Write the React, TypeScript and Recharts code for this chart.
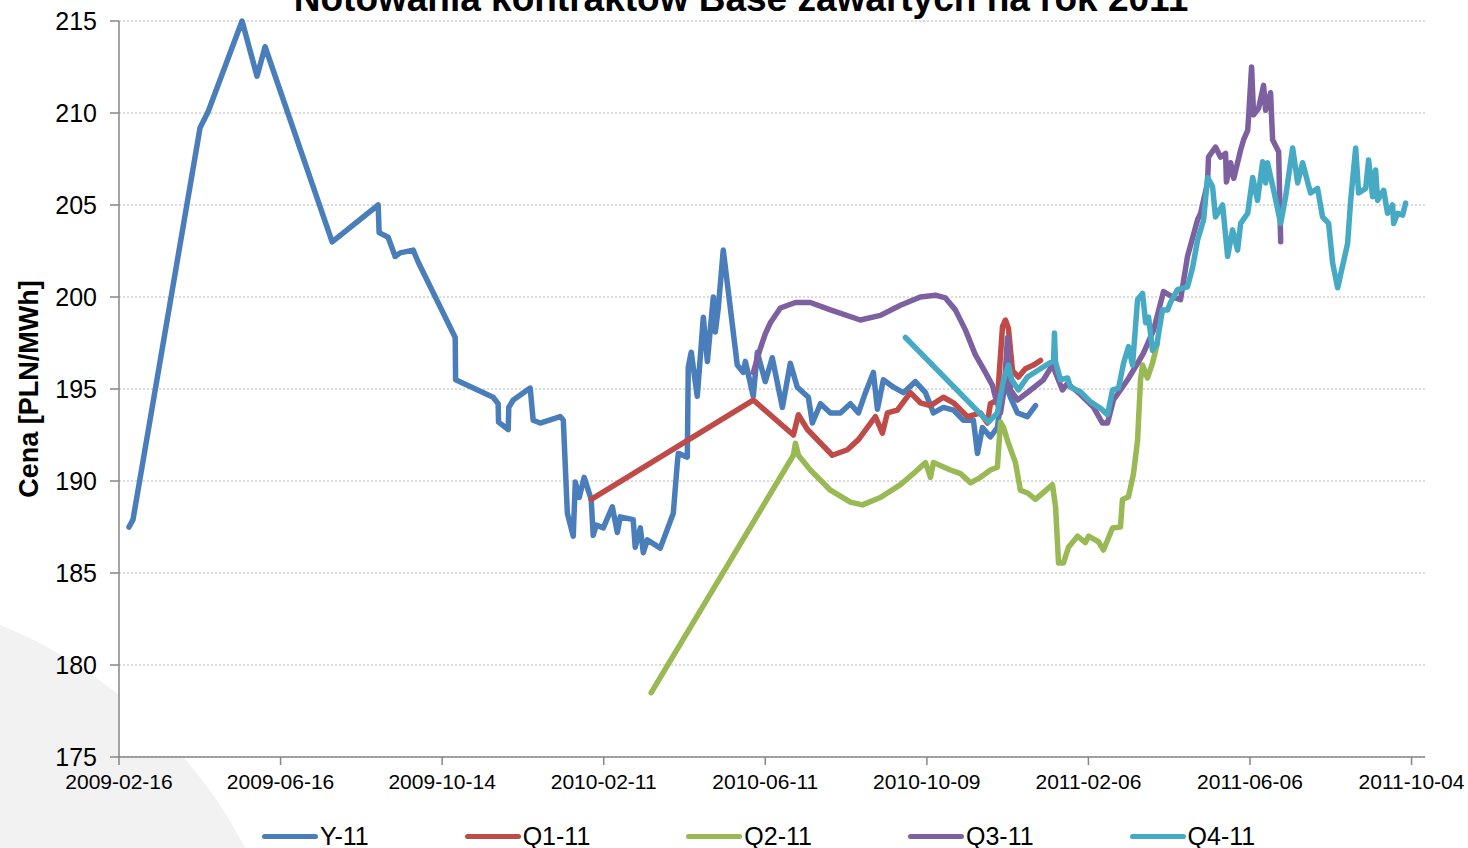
import { LineChart, Line, XAxis, YAxis, CartesianGrid } from 'recharts'

// days counted from 2009-02-16, values in PLN/MWh
const Y11: [number, number][] = [
    [7.4, 187.5], [10.4, 187.9], [60.2, 209.2], [66.1, 210.05], [91.4, 215], [102.5, 212.0], [108.5, 213.6],
    [158.3, 203.0], [192.5, 205.0], [193.2, 203.5], [199.9, 203.25], [205.1, 202.2], [208.8, 202.4],
    [218.5, 202.55], [222.2, 201.9], [249.7, 197.8], [250, 195.5], [277.9, 194.55], [281.6, 194.2],
    [281.9, 193.2], [289.1, 192.8], [289.5, 194.0], [292.8, 194.4], [305.4, 195.05], [307.6, 193.3],
    [312.8, 193.15], [327.7, 193.5], [330.0, 193.3], [333.0, 188.25], [337.4, 187.0], [338.9, 189.95],
    [341.8, 189.1], [345.5, 190.2], [350.7, 189.0], [352.2, 187.05], [354.5, 187.6], [359.7, 187.45],
    [366.4, 188.6], [370.1, 187.2], [372.3, 188.05], [381.9, 187.9], [383.4, 186.4], [387.2, 187.45],
    [389.4, 186.1], [392.4, 186.8], [402.0, 186.35], [411.7, 188.25], [414.7, 191.0], [415.4, 191.5],
    [422.1, 191.3], [422.8, 196.2], [425, 197.0], [429.5, 194.6], [434, 198.9], [437, 196.5], [441.4, 200.0],
    [442.9, 198.1], [445.1, 199.4], [448.8, 202.55], [459.2, 196.3], [463.7, 195.9], [465.2, 196.5],
    [471.1, 194.6], [474.1, 197.0], [480, 195.4], [485.2, 196.7], [492.7, 194.0], [498.6, 196.4],
    [503.8, 195.1], [512, 194.55], [515, 193.15], [521, 194.2], [528.4, 193.7], [535.8, 193.7],
    [543.2, 194.2], [549.2, 193.7], [554.4, 194.8], [560.3, 195.9], [563.3, 193.9], [567.7, 195.5],
    [575.2, 195.1], [582.6, 194.8], [591.5, 195.4], [599, 194.8], [604.9, 193.7], [612.3, 194.0],
    [619.8, 193.85], [627.2, 193.3], [634.6, 193.3], [637.6, 191.5], [641.3, 192.9], [647.2, 192.4],
    [652.4, 192.9], [657, 195.5], [662.1, 194.55], [667.3, 193.7], [674.7, 193.5], [680.7, 194.1],
]

const Q1_11: [number, number][] = [
    [350.7, 189.0], [471.1, 194.4], [500.9, 192.5], [504.6, 193.6], [511.3, 192.8], [529.8, 191.4],
    [541, 191.7], [549.2, 192.25], [561.8, 193.5], [567, 192.6], [570.7, 193.7], [578.1, 193.85],
    [587.8, 194.8], [595.2, 194.25], [602.7, 194.1], [612.3, 194.55], [619.8, 194.25], [630.2, 193.5],
    [639.8, 193.7], [645, 193.15], [647.2, 194.2], [652.4, 194.4], [656.2, 198.4], [658.4, 198.75],
    [660.6, 198.3], [663.6, 196.0], [668, 195.65], [673.2, 196.1], [679.2, 196.3], [684.4, 196.55],
]

const Q2_11: [number, number][] = [
    [395.3, 178.5], [500.9, 191.4], [502.4, 192.05], [504.6, 191.4], [513.5, 190.6], [528.4, 189.5],
    [543.2, 188.85], [552.1, 188.7], [565.5, 189.1], [580.4, 189.8], [591.5, 190.5], [599, 191.0],
    [602.7, 190.2], [604.9, 191.0], [617.5, 190.6], [625, 190.4], [632.4, 189.9], [639.8, 190.2],
    [647.2, 190.6], [652.4, 190.75], [654.7, 193.2], [657, 192.9], [659.9, 192.2], [665.8, 191.0],
    [669.5, 189.5], [674.7, 189.35], [680.7, 189.0], [693.3, 189.8], [695.6, 188.6], [697.8, 185.55],
    [701.5, 185.55], [705.2, 186.4], [711.9, 187.0], [717.8, 186.65], [720.1, 187.0], [727.5, 186.7],
    [731.2, 186.25], [737.9, 187.45], [743.8, 187.5], [745.3, 189.0], [749.8, 189.15], [753.5, 190.4],
    [756.5, 192.2], [758.7, 195.5], [760.2, 196.3], [763.9, 195.6], [767.6, 196.4], [771.3, 197.5],
]

const Q3_11: [number, number][] = [
    [471.1, 195.9], [476.3, 197.2], [480, 198.0], [483.8, 198.6], [491.2, 199.4], [502.4, 199.7],
    [513.5, 199.7], [528.4, 199.3], [550.6, 198.75], [565.5, 199.0], [580.4, 199.55], [595.2, 200.0],
    [606.4, 200.1], [613.8, 199.95], [621.2, 199.3], [628.7, 198.2], [636.1, 196.85], [643.5, 195.9],
    [648.7, 195.2], [651, 194.55], [654.7, 193.7], [657.5, 195], [659.9, 197.8], [662.1, 194.95],
    [667.3, 194.4], [675.5, 194.85], [686.6, 195.5], [693.3, 196.3], [700.7, 194.95], [704.5, 195.3],
    [714.1, 194.7], [723.8, 194.0], [730.5, 193.15], [734.2, 193.15], [738.6, 194.4], [749.1, 195.5],
    [756.5, 196.4], [760.9, 196.95], [768.4, 198.2], [775.8, 200.3], [782.5, 200.0], [788.4, 199.85],
    [793.6, 202.2], [801.1, 204.2], [803.3, 204.55], [808.5, 206.2], [809.2, 207.6], [814.4, 208.15],
    [818.2, 207.6], [821.9, 207.8], [822.5, 206.25], [825.6, 207.3], [828, 206.45], [833.1, 208.0],
    [835.3, 208.55], [838.3, 209.05], [839, 209.8], [841.2, 212.5], [842.7, 209.9], [846.4, 210.25],
    [850.1, 211.5], [851.6, 210.15], [855.3, 211.1], [856.8, 208.55], [861.3, 207.9], [862.8, 203.0],
]

const Q4_11: [number, number][] = [
    [584.1, 197.8], [645.8, 193.2], [652.4, 193.7], [657, 195.5], [660.6, 196.3], [663, 195.5],
    [668, 194.95], [674.7, 195.65], [684.4, 196.1], [694.1, 196.55], [694.8, 198.05], [695.5, 196.5],
    [699.3, 195.5], [704.5, 195.6], [706.7, 195.1], [714.1, 194.85], [721.6, 194.3], [729, 193.95],
    [734.2, 193.6], [737.9, 194.95], [742.4, 195.05], [746.1, 196.4], [749.8, 197.3], [752.8, 196.3],
    [756.5, 199.85], [760.2, 200.2], [762.5, 198.6], [764.7, 198.9], [767.6, 197.1], [771, 197.5],
    [775, 199.3], [778.8, 199.3], [781, 199.7], [786.2, 200.4], [793.6, 200.55], [797.4, 201.6],
    [801.1, 203.1], [805.6, 204.2], [808.5, 206.5], [812.2, 206.0], [814.4, 204.35], [819.7, 205.0],
    [823.4, 202.2], [827.1, 203.65], [830.8, 202.55], [833.1, 204.0], [838.3, 204.55], [842, 206.5],
    [845.6, 205.25], [849.4, 207.35], [851.6, 206.2], [853, 207.3], [857.6, 205.8], [862.8, 204.0],
    [866.5, 205.45], [871.7, 208.1], [875.4, 206.2], [879.1, 207.3], [885, 205.65], [890.2, 205.9],
    [893.9, 204.35], [898.4, 204.0], [901.4, 201.85], [905.1, 200.5], [912.5, 202.9], [914.8, 205.25],
    [918.5, 208.1], [920.7, 205.65], [925.9, 205.9], [928.1, 207.45], [931.1, 205.45], [933.3, 206.9],
    [934.8, 205.25], [939.3, 205.8], [942.2, 204.55], [945.9, 205.0], [946.7, 204.0], [949.7, 204.55],
    [953.4, 204.45], [955.6, 205.1],
]

const X_TICKS = [0, 120, 240, 360, 480, 600, 720, 840, 960]
const X_LABELS = ['2009-02-16', '2009-06-16', '2009-10-14', '2010-02-11', '2010-06-11', '2010-10-09', '2011-02-06', '2011-06-06', '2011-10-04']
const Y_TICKS = [175, 180, 185, 190, 195, 200, 205, 210, 215]

const SERIES = [
    { name: 'Y-11', points: Y11, color: '#4a7ebb' },
    { name: 'Q1-11', points: Q1_11, color: '#be4b48' },
    { name: 'Q2-11', points: Q2_11, color: '#98b954' },
    { name: 'Q3-11', points: Q3_11, color: '#7d60a0' },
    { name: 'Q4-11', points: Q4_11, color: '#46aac5' },
]

const FONT = '"Liberation Sans", Arial, sans-serif'
const AXIS = '#868686'

export default function App() {
    return (
        <div style={{ position: 'absolute', left: 0, top: 0, width: 1468, height: 848, overflow: 'hidden', background: '#fff', fontFamily: FONT }}>
            {/* faint background swoosh */}
            <svg width={1468} height={848} style={{ position: 'absolute', left: 0, top: 0 }}>
                <path d="M0,625 C90,660 190,740 245,848 L0,848 Z" fill="#f2f2f2" />
            </svg>

            <div style={{ position: 'absolute', left: 0, top: 0 }}>
                <LineChart width={1468} height={848} margin={{ top: 21, right: 43, left: 0, bottom: 51 }}>
                    <CartesianGrid vertical={false} stroke="#b8b8b8" strokeDasharray="2 2" fill="#fff" />
                    <XAxis
                        type="number"
                        dataKey="day"
                        domain={[0, 970]}
                        ticks={X_TICKS}
                        tickFormatter={(v: number) => X_LABELS[X_TICKS.indexOf(v)] ?? ''}
                        height={40}
                        stroke={AXIS}
                        strokeWidth={1.5}
                        tickSize={8}
                        tickMargin={9}
                        tick={{ fill: '#000', fontSize: 21, fontFamily: FONT }}
                        allowDuplicatedCategory={false}
                    />
                    <YAxis
                        type="number"
                        domain={[175, 215]}
                        ticks={Y_TICKS}
                        width={119}
                        stroke={AXIS}
                        strokeWidth={1.5}
                        tickSize={9}
                        tickMargin={13}
                        tick={{ fill: '#000', fontSize: 25, fontFamily: FONT }}
                        label={{
                            value: 'Cena [PLN/MWh]',
                            angle: -90,
                            position: 'insideLeft',
                            offset: 28,
                            style: { textAnchor: 'middle', fontWeight: 'bold', fontSize: 27, fill: '#000', fontFamily: FONT },
                        }}
                    />
                    {SERIES.map(s => (
                        <Line
                            key={s.name}
                            data={s.points.map(([day, value]) => ({ day, value }))}
                            dataKey="value"
                            name={s.name}
                            type="linear"
                            stroke={s.color}
                            strokeWidth={5.5}
                            dot={false}
                            strokeLinejoin="round"
                            strokeLinecap="round"
                            isAnimationActive={false}
                        />
                    ))}
                </LineChart>
            </div>

            {/* title, cut at the top like the original */}
            <div style={{ position: 'absolute', left: 0, width: 1482, top: -20, textAlign: 'center', fontSize: 37, lineHeight: '37px', fontWeight: 'bold', color: '#000' }}>
                Notowania kontraktów Base zawartych na rok 2011
            </div>

            {/* legend */}
            <div style={{ position: 'absolute', left: 262, top: 822, display: 'flex', gap: 96, alignItems: 'center' }}>
                {SERIES.map(s => (
                    <div key={s.name} style={{ display: 'flex', alignItems: 'center', gap: 2 }}>
                        <div style={{ width: 56, height: 5, borderRadius: 3, background: s.color }} />
                        <span style={{ fontSize: 25, lineHeight: '28px', color: '#000' }}>{s.name}</span>
                    </div>
                ))}
            </div>
        </div>
    )
}
